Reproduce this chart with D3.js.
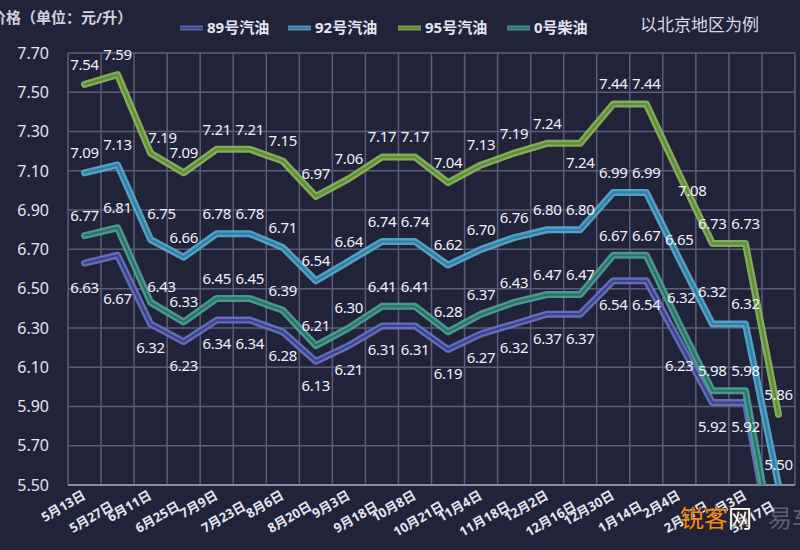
<!DOCTYPE html>
<html><head><meta charset="utf-8">
<script src="https://cdn.jsdelivr.net/npm/d3@7/dist/d3.min.js"></script>
<style>
html,body{margin:0;padding:0;background:#212439;}
svg{display:block;}
text{font-family:"Noto Sans","Noto Sans CJK SC",sans-serif;}
</style></head><body>
<svg id="chart" width="800" height="550"></svg>
<script>
// ---- data ----
const categories = ["5月13日","5月27日","6月11日","6月25日","7月9日","7月23日","8月6日","8月20日","9月3日","9月18日","10月8日","10月21日","11月4日","11月18日","12月2日","12月16日","12月30日","1月14日","2月4日","2月17日","3月3日","3月17日"];
const yTicks = [5.50,5.70,5.90,6.10,6.30,6.50,6.70,6.90,7.10,7.30,7.50,7.70];
const values89 = [6.63,6.67,6.32,6.23,6.34,6.34,6.28,6.13,6.21,6.31,6.31,6.19,6.27,6.32,6.37,6.37,6.54,6.54,6.23,5.92,5.92,5.00];
const values92 = [7.09,7.13,6.75,6.66,6.78,6.78,6.71,6.54,6.64,6.74,6.74,6.62,6.70,6.76,6.80,6.80,6.99,6.99,6.65,6.32,6.32,5.50];
const values95 = [7.54,7.59,7.19,7.09,7.21,7.21,7.15,6.97,7.06,7.17,7.17,7.04,7.13,7.19,7.24,7.24,7.44,7.44,7.08,6.73,6.73,5.86];
const values0  = [6.77,6.81,6.43,6.33,6.45,6.45,6.39,6.21,6.30,6.41,6.41,6.28,6.37,6.43,6.47,6.47,6.67,6.67,6.32,5.98,5.98,5.06];
const seriesNames = ["89号汽油","92号汽油","95号汽油","0号柴油"];
const titleText = "价格（单位：元/升）";
const noteText = "以北京地区为例";

// ---- layout / style (not data) ----
const W = 800, H = 550;
const plot = {left: 68, right: 795, top: 53, bottom: 485};
const styles = [
  {outer:"#6a74c2", inner:"#38438f", place:"below"},
  {outer:"#5aaed2", inner:"#2e7ea5", place:"above"},
  {outer:"#8dbb5a", inner:"#5d8c3a", place:"above"},
  {outer:"#4ea596", inner:"#2a7366", place:"above"}
];
const nudges = [ // [seriesIndex, pointIndex, dx, dy]
  [0,1,0,43],
  [2,2,12,-16],[1,2,11,-26],[3,2,11,-16],
  [2,15,0,19],[2,18,13,16],
  [1,19,0,-32],[3,18,2,-26],[2,7,0,-23]
];
const series = [values89, values92, values95, values0];

const svg = d3.select("#chart");
svg.append("rect").attr("width",W).attr("height",H).attr("fill","#212439");

const x = d3.scaleBand().domain(d3.range(categories.length)).range([plot.left, plot.right]).padding(0);
const y = d3.scaleLinear().domain([5.5, 7.7]).range([plot.bottom, plot.top]);
const cx = i => x(i) + x.bandwidth()/2;

// grid
const grid = svg.append("g");
grid.selectAll("line.h").data(yTicks).join("line")
  .attr("x1",plot.left).attr("x2",plot.right)
  .attr("y1",d=>y(d)).attr("y2",d=>y(d))
  .attr("stroke","#5b5e78").attr("stroke-width",1.5);
const vb = d3.range(categories.length+1).map(i => i<categories.length ? x(i) : plot.right);
grid.selectAll("line.v").data(vb).join("line")
  .attr("x1",d=>d).attr("x2",d=>d)
  .attr("y1",plot.top).attr("y2",plot.bottom)
  .attr("stroke","#5b5e78").attr("stroke-width",1.5);
svg.append("line").attr("x1",plot.left).attr("x2",plot.right)
  .attr("y1",plot.bottom).attr("y2",plot.bottom)
  .attr("stroke","#8a8ca4").attr("stroke-width",2);

// y tick labels
svg.append("g").selectAll("text").data(yTicks).join("text")
  .attr("x",49).attr("y",d=>y(d)).attr("dy","0.36em")
  .attr("text-anchor","end").attr("font-size",16)
  .attr("fill","#e4e6ef").text(d=>d.toFixed(2));

// x tick labels
svg.append("g").selectAll("text").data(categories).join("text")
  .attr("transform",(d,i)=>`translate(${cx(i)+ (i%2?-3:2)},${i%2?509:498}) rotate(-30)`)
  .attr("text-anchor","end").attr("font-size",13).attr("font-weight","bold")
  .attr("fill","#e4e6ef").text(d=>d);

// clip
svg.append("clipPath").attr("id","clip").append("rect")
  .attr("x",plot.left).attr("y",plot.top-30)
  .attr("width",plot.right-plot.left).attr("height",plot.bottom-plot.top+30);

const line = d3.line().x((d,i)=>cx(i)).y(d=>y(d));
const lines = svg.append("g").attr("clip-path","url(#clip)");
[0,1,2,3].forEach(s=>{
  lines.append("path").datum(series[s]).attr("d",line)
    .attr("fill","none").attr("stroke",styles[s].outer).attr("stroke-width",7)
    .attr("stroke-linejoin","round").attr("stroke-linecap","round").attr("opacity",0.9);
  lines.append("path").datum(series[s]).attr("d",line)
    .attr("fill","none").attr("stroke",styles[s].inner).attr("stroke-width",2.2)
    .attr("stroke-linejoin","round").attr("stroke-linecap","round");
});

// data labels
const labels = svg.append("g");
series.forEach((vals,s)=>{
  vals.forEach((v,i)=>{
    if (v < 5.5) return;
    let dx = 0, dy = styles[s].place==="above" ? -20 : 24;
    nudges.forEach(n=>{ if(n[0]===s && n[1]===i){ dx=n[2]; dy=n[3]; } });
    labels.append("text")
      .attr("x",cx(i)+dx).attr("y",y(v)+dy).attr("dy","0.36em")
      .attr("text-anchor","middle").attr("font-size",15)
      .attr("fill","#f0f1f7").attr("letter-spacing","-0.3")
      .text(v.toFixed(2));
  });
});

// title and note
svg.append("text").attr("x",-9).attr("y",18).attr("dy","0.36em")
  .attr("font-size",15).attr("font-weight","bold").attr("fill","#cfd2de")
  .attr("font-family","Noto Sans CJK SC").text(titleText);
svg.append("text").attr("x",640).attr("y",25).attr("dy","0.36em")
  .attr("font-size",17).attr("fill","#d8dae4")
  .attr("font-family","Noto Sans CJK SC").text(noteText);

// legend
const legendX = [180, 288, 398, 507];
const leg = svg.append("g");
seriesNames.forEach((n,s)=>{
  const g = leg.append("g").attr("transform",`translate(${legendX[s]},28)`);
  g.append("line").attr("x1",0).attr("x2",23).attr("stroke",styles[s].outer).attr("stroke-width",5).attr("opacity",0.8);
  g.append("line").attr("x1",0).attr("x2",23).attr("stroke",styles[s].inner).attr("stroke-width",1.5);
  g.append("text").attr("x",27).attr("dy","0.36em").attr("font-size",15).attr("font-weight","bold")
    .attr("fill","#e4e6ef").attr("font-family","Noto Sans CJK SC").text(n);
});

// watermark
const wm = svg.append("text").attr("x",680).attr("y",518).attr("dy","0.36em")
  .attr("font-size",24).attr("font-family","Noto Sans CJK SC")
  .attr("stroke","#2a1a10").attr("stroke-width",1.2).attr("paint-order","stroke");
wm.append("tspan").attr("fill","#f08a1c").text("锐客");
wm.append("tspan").attr("fill","#ffffff").text("网");
svg.append("text").attr("x",768).attr("y",518).attr("dy","0.36em")
  .attr("font-size",24).attr("font-family","Noto Sans CJK SC")
  .attr("fill","#c8cad6").attr("opacity",0.35).text("易车");
</script>
</body></html>
